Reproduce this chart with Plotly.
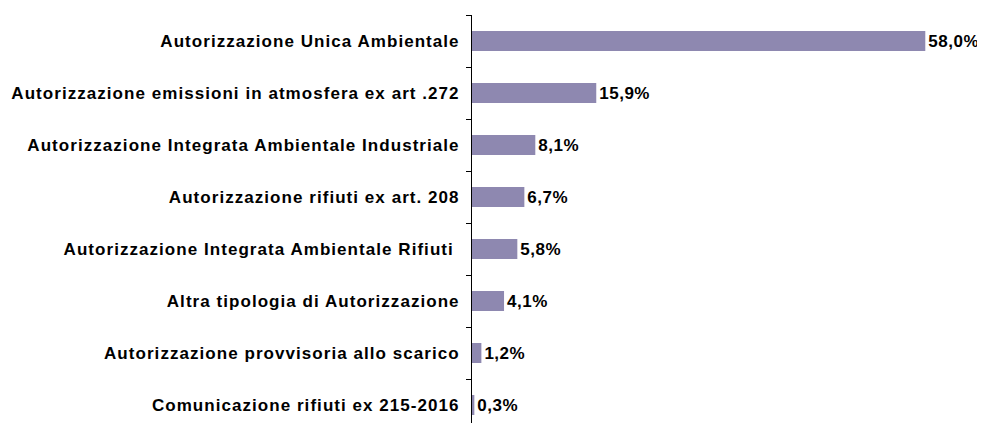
import plotly.graph_objects as go

categories = [
    "Autorizzazione Unica Ambientale",
    "Autorizzazione emissioni in atmosfera ex art .272",
    "Autorizzazione Integrata Ambientale Industriale",
    "Autorizzazione rifiuti ex art. 208",
    "Autorizzazione Integrata Ambientale Rifiuti ",
    "Altra tipologia di Autorizzazione",
    "Autorizzazione provvisoria allo scarico",
    "Comunicazione rifiuti ex 215-2016",
]
values = [58.0, 15.9, 8.1, 6.7, 5.8, 4.1, 1.2, 0.3]
value_labels = [f"{v:.1f}%".replace(".", ",") for v in values]

FONT = "Liberation Sans, Arial"

fig = go.Figure(go.Bar(
    x=values, y=categories, orientation="h",
    marker=dict(color="#8E88B0", line=dict(width=0)),
    width=0.385,
    text=value_labels, textposition="outside", cliponaxis=False,
    texttemplate='<span style="letter-spacing:0.5px"><b>%{text}</b></span>',
    textfont=dict(family=FONT, size=17, color="black"),
))
fig.update_layout(
    width=985, height=423,
    margin=dict(l=464, r=13, t=7, b=0),
    paper_bgcolor="white", plot_bgcolor="white",
    font=dict(family=FONT, size=17, color="black"),
    showlegend=False,
    xaxis=dict(range=[0, 65.0], showgrid=False, zeroline=False, showticklabels=False,
               showline=False, ticks="", automargin=False),
    yaxis=dict(range=[7.5, -0.5], autorange=False, showline=True, linecolor="black", linewidth=1,
               ticks="outside", tickson="boundaries", ticklen=5, tickcolor="black",
               showgrid=False, automargin=False,
               tickfont=dict(size=17, family=FONT, color="black"),
               tickvals=categories,
               ticktext=[f'<span style="letter-spacing:1.05px"><b>{c}</b></span>' for c in categories],
               ticklabelstandoff=8),
)
fig.write_html("out.html")
